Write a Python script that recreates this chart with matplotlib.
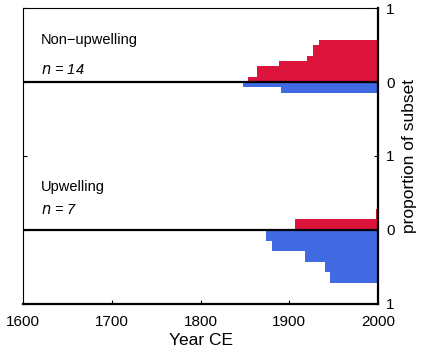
import numpy as np
import matplotlib.pyplot as plt

plt.rcParams['font.family'] = ['Liberation Sans', 'DejaVu Sans']

# Non-upwelling (n = 14): years where cumulative count changes
non_n = 14
non_red_years = [1853, 1864, 1889, 1920, 1927, 1933]
non_red_counts = [1, 3, 4, 5, 7, 8]
non_blue_years = [1848, 1891]
non_blue_counts = [1, 2]

# Upwelling (n = 7)
up_n = 7
up_red_years = [1907, 1998]
up_red_counts = [1, 2]
up_blue_years = [1874, 1880, 1918, 1940, 1946]
up_blue_counts = [1, 2, 3, 4, 5]

red = '#DC143C'
blue = '#4169E1'

fig = plt.figure(figsize=(4.21, 3.56), dpi=100)
ax = fig.add_axes([0.0546, 0.1461, 0.8433, 0.8314])


def draw_steps(years, counts, n, base, sign, color):
    x = np.array(list(years) + [2000])
    y = np.array(list(counts) + [counts[-1]]) / n
    ax.fill_between(x, base, base + sign * y, step='post', color=color, lw=0)


draw_steps(non_red_years, non_red_counts, non_n, 3, 1, red)
draw_steps(non_blue_years, non_blue_counts, non_n, 3, -1, blue)
draw_steps(up_red_years, up_red_counts, up_n, 1, 1, red)
draw_steps(up_blue_years, up_blue_counts, up_n, 1, -1, blue)

ax.axhline(3, color='black', lw=1.6)
ax.axhline(1, color='black', lw=1.6)

ax.set_xlim(1600, 2000)
ax.set_ylim(0, 4)

ax.text(1620, 3.57, 'Non\u2212upwelling', fontsize=10.5, va='center')
ax.text(1620, 3.16, '$n$ = 14', fontsize=10.5, va='center', style='italic')
ax.text(1620, 1.58, 'Upwelling', fontsize=10.5, va='center')
ax.text(1620, 1.27, '$n$ = 7', fontsize=10.5, va='center', style='italic')

ax.set_xticks([1600, 1700, 1800, 1900, 2000])
ax.set_yticks([0, 1, 2, 3, 4])
ax.set_yticklabels(['1', '0', '1', '0', '1'])
ax.yaxis.tick_right()
ax.yaxis.set_label_position('right')
ax.tick_params(axis='y', which='both', left=True, right=True, direction='in',
               length=3, labelsize=11, pad=6)
ax.tick_params(axis='x', direction='in', length=3, labelsize=11, pad=8)
ax.set_xlabel('Year CE', fontsize=12.5, labelpad=3)
ax.set_ylabel('proportion of subset', fontsize=12.5, labelpad=5)

for s in ['left', 'top']:
    ax.spines[s].set_linewidth(0.8)
for s in ['right', 'bottom']:
    ax.spines[s].set_linewidth(1.6)

fig.savefig('out.png', dpi=100)
